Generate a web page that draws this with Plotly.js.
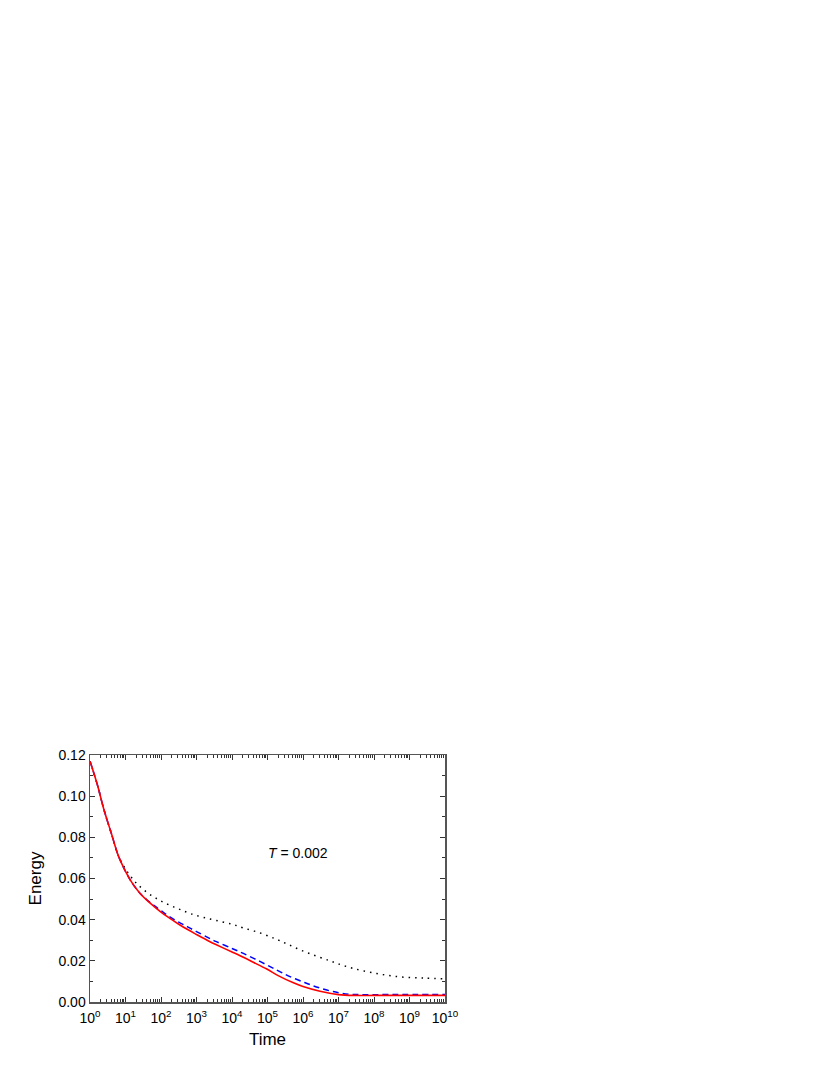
<!DOCTYPE html>
<html lang="en">
<head>
  <meta charset="UTF-8" />
  <title>Energy vs Time</title>
  <script src="https://cdn.plot.ly/plotly-3.0.1.min.js"></script>
  <style>
    body { margin: 0; background: #fff; }
    #chart { width: 830px; height: 1075px; }
  </style>
</head>
<body>
<div id="chart"></div>
<script>
  const redLogT = [0, 0.2, 0.4, 0.6, 0.8, 1.0, 1.2, 1.4, 1.6, 1.8, 2.0, 2.2, 2.5, 2.75, 3.0, 3.38, 3.56, 4.0, 4.32, 4.6, 4.98, 5.3, 5.73, 6.0, 6.48, 7.0, 7.5, 8.0, 9.0, 10.0];
  const redE    = [0.117, 0.106, 0.093, 0.082, 0.071, 0.0635, 0.0575, 0.053, 0.0495, 0.0465, 0.0437, 0.0412, 0.0378, 0.0352, 0.0328, 0.0293, 0.0278, 0.0243, 0.0217, 0.0193, 0.016, 0.0128, 0.0093, 0.0075, 0.0052, 0.0036, 0.0032, 0.0032, 0.0032, 0.0032];

  const blueLogT = [0, 0.2, 0.4, 0.6, 0.8, 1.0, 1.2, 1.4, 1.6, 1.8, 2.0, 2.2, 2.5, 2.75, 3.0, 3.38, 3.56, 4.0, 4.32, 4.8, 5.26, 5.6, 6.01, 6.3, 6.67, 7.0, 7.3, 7.6, 8.5, 10.0];
  const blueE    = [0.117, 0.106, 0.093, 0.082, 0.071, 0.0635, 0.0575, 0.053, 0.0497, 0.0469, 0.0444, 0.0419, 0.0388, 0.0365, 0.0342, 0.0308, 0.0293, 0.026, 0.0236, 0.0196, 0.0155, 0.0126, 0.0097, 0.0078, 0.0058, 0.0045, 0.0038, 0.0036, 0.0036, 0.0036];

  const blackLogT = [0, 0.2, 0.4, 0.6, 0.8, 0.98, 1.2, 1.35, 1.6, 1.87, 2.1, 2.37, 2.6, 2.85, 3.2, 3.56, 4.0, 4.32, 4.8, 5.26, 5.6, 6.01, 6.4, 6.76, 7.0, 7.42, 8.08, 8.73, 9.39, 10.0];
  const blackE    = [0.117, 0.106, 0.093, 0.082, 0.071, 0.0652, 0.0598, 0.057, 0.0533, 0.0503, 0.0482, 0.0461, 0.0445, 0.0428, 0.0411, 0.0396, 0.0378, 0.036, 0.0335, 0.0304, 0.0278, 0.0247, 0.0222, 0.02, 0.0185, 0.0163, 0.0138, 0.0122, 0.0116, 0.0113];

  const xTickVals = [1, 1e1, 1e2, 1e3, 1e4, 1e5, 1e6, 1e7, 1e8, 1e9, 1e10];
  const xTickText = ['10<sup>0</sup>', '10<sup>1</sup>', '10<sup>2</sup>', '10<sup>3</sup>', '10<sup>4</sup>', '10<sup>5</sup>',
                     '10<sup>6</sup>', '10<sup>7</sup>', '10<sup>8</sup>', '10<sup>9</sup>', '10<sup>10</sup>'];

  const toTime = arr => arr.map(e => Math.pow(10, e));

  const traces = [
    {
      x: toTime(blackLogT), y: blackE, type: 'scatter', mode: 'lines',
      line: { color: '#000', width: 1.5, dash: '1.5px,5px', shape: 'spline' },
      showlegend: false
    },
    {
      x: toTime(blueLogT), y: blueE, type: 'scatter', mode: 'lines',
      line: { color: '#0000ff', width: 1.5, dash: '6px,4px', shape: 'spline' },
      showlegend: false
    },
    {
      x: toTime(redLogT), y: redE, type: 'scatter', mode: 'lines',
      line: { color: '#ff0000', width: 1.6, shape: 'spline' },
      showlegend: false
    }
  ];

  const font = { family: '"Liberation Sans", Arial, sans-serif', color: '#000' };

  const layout = {
    width: 830,
    height: 1075,
    margin: { l: 90, r: 385, t: 755, b: 73 },
    paper_bgcolor: '#fff',
    plot_bgcolor: '#fff',
    font: font,
    xaxis: {
      type: 'log',
      range: [0, 10],
      tickvals: xTickVals,
      ticktext: xTickText,
      ticks: 'inside',
      ticklen: 5,
      tickwidth: 1,
      tickcolor: '#333',
      ticklabelstandoff: 3,
      minor: { ticks: 'inside', ticklen: 3, tickcolor: '#333', dtick: 'D1', showgrid: false },
      showline: true,
      linecolor: '#555',
      linewidth: 1.5,
      mirror: 'allticks',
      showgrid: false,
      zeroline: false,
      tickfont: { size: 14, family: font.family },
      title: { text: 'Time', font: { size: 17, family: font.family }, standoff: 8 }
    },
    yaxis: {
      range: [0, 0.12],
      dtick: 0.02,
      tickformat: '.2f',
      ticks: 'inside',
      ticklen: 5,
      tickwidth: 1,
      tickcolor: '#333',
      minor: { ticks: 'inside', ticklen: 3, tickcolor: '#333', dtick: 0.01, showgrid: false },
      showline: true,
      linecolor: '#555',
      linewidth: 1.5,
      mirror: 'allticks',
      showgrid: false,
      zeroline: false,
      tickfont: { size: 14, family: font.family },
      title: { text: 'Energy', font: { size: 17, family: font.family }, standoff: 12 }
    },
    annotations: [
      {
        x: 5.85, y: 0.0726, xref: 'x', yref: 'y',
        text: '<i>T</i> = 0.002', showarrow: false,
        font: { size: 14, family: font.family }
      }
    ]
  };

  Plotly.newPlot('chart', traces, layout, { displayModeBar: false, staticPlot: true });
</script>
</body>
</html>
